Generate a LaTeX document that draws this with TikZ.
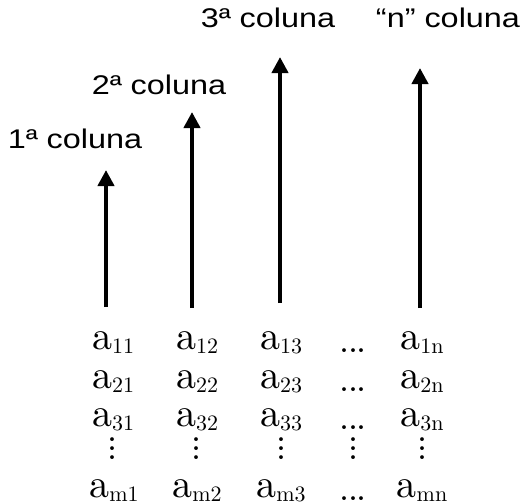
\documentclass[tikz,border=0pt]{standalone}
\usepackage{fontspec}
\usepackage{graphicx}
\usetikzlibrary{arrows.meta}
\newfontfamily\labfont[FakeStretch=1.2]{Liberation Sans}
\newfontfamily\entfont{lmroman10-regular}[Extension=.otf]
\newcommand\ent[1]{{\entfont\fontsize{40}{44}\selectfont a}\raisebox{-4pt}{\entfont\fontsize{22}{24}\selectfont #1}}
\newcommand\hdots{{\entfont\fontsize{36}{40}\selectfont .\kern-2pt.\kern-2pt.}}
\newcommand\vdts{{\entfont\fontsize{36}{40}\selectfont\vbox{\baselineskip=9pt\lineskiplimit=-100pt\hbox{.}\hbox{.}\hbox{.}}}}
\begin{document}
\begin{tikzpicture}[x=1pt,y=-1pt,
  lab/.style={font=\labfont\fontsize{27}{30}\selectfont, anchor=base, inner sep=0pt},
  entry/.style={anchor=base, inner sep=0pt},
  dotsnode/.style={anchor=center, inner sep=0pt},
  colarrow/.style={line width=4pt, -{Triangle[width=16pt,length=16pt]}}]
\useasboundingbox (0,0) rectangle (521,503);

% column labels
\node[lab] (l1) at (75,148) {1ª coluna};
\node[lab] (l2) at (159,94) {2ª coluna};
\node[lab] (l3) at (268,28) {3ª coluna};
\node[lab] (ln) at (448,28) {“n” coluna};

% arrow end points
\coordinate (b1) at (106,307); \coordinate (t1) at (106,170);
\coordinate (b2) at (192,308); \coordinate (t2) at (192,112);
\coordinate (b3) at (280,303); \coordinate (t3) at (280,57);
\coordinate (bn) at (420,308); \coordinate (tn) at (420,68);
\draw[colarrow] (b1) -- (t1);
\draw[colarrow] (b2) -- (t2);
\draw[colarrow] (b3) -- (t3);
\draw[colarrow] (bn) -- (tn);

% matrix entries
\node[entry] (a11) at (113,349) {\ent{11}};
\node[entry] (a12) at (197,349) {\ent{12}};
\node[entry] (a13) at (281,349) {\ent{13}};
\node[entry] (h1)  at (353,352) {\hdots};
\node[entry] (a1n) at (422,349) {\ent{1n}};

\node[entry] (a21) at (113,388) {\ent{21}};
\node[entry] (a22) at (197,388) {\ent{22}};
\node[entry] (a23) at (281,388) {\ent{23}};
\node[entry] (h2)  at (353,391) {\hdots};
\node[entry] (a2n) at (422,388) {\ent{2n}};

\node[entry] (a31) at (113,426) {\ent{31}};
\node[entry] (a32) at (197,426) {\ent{32}};
\node[entry] (a33) at (281,426) {\ent{33}};
\node[entry] (h3)  at (353,429) {\hdots};
\node[entry] (a3n) at (422,426) {\ent{3n}};

\node[dotsnode] (v1) at (113,449) {\vdts};
\node[dotsnode] (v2) at (197,449) {\vdts};
\node[dotsnode] (v3) at (281,449) {\vdts};
\node[dotsnode] (v4) at (353,449) {\vdts};
\node[dotsnode] (vn) at (422,449) {\vdts};

\node[entry] (am1) at (114,497) {\ent{m1}};
\node[entry] (am2) at (197,497) {\ent{m2}};
\node[entry] (am3) at (281,497) {\ent{m3}};
\node[entry] (hm)  at (353,500) {\hdots};
\node[entry] (amn) at (422,497) {\ent{mn}};
\end{tikzpicture}
\end{document}
